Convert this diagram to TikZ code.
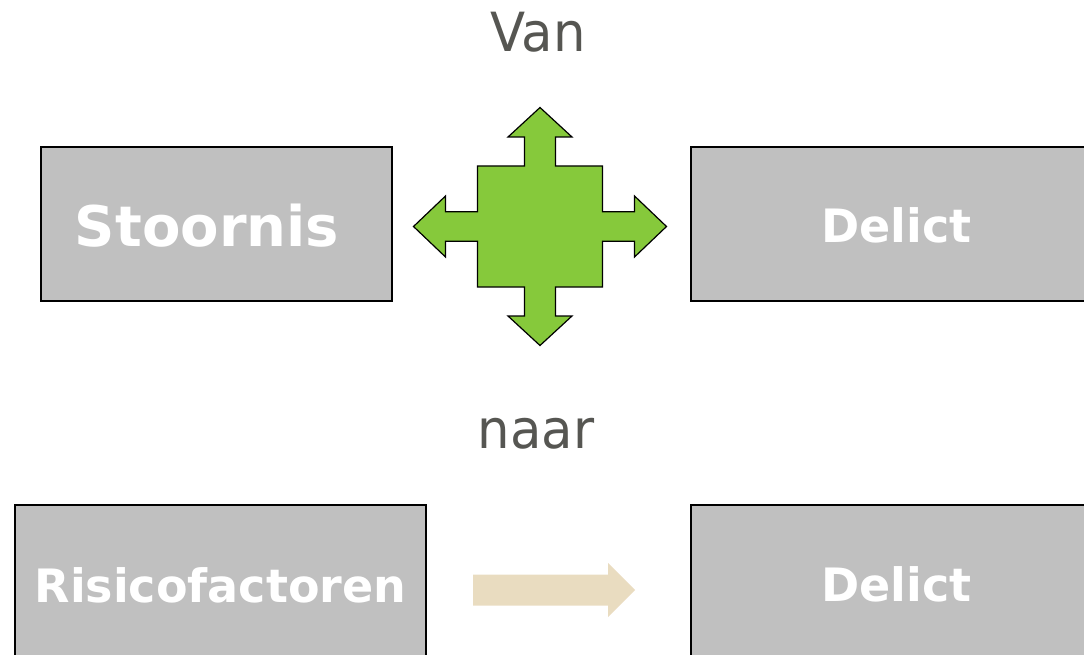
\documentclass[tikz,border=0pt]{standalone}
\usepackage{fontspec}
\setmainfont{DejaVu Sans}
\newfontfamily\narrowfont[FakeStretch=0.95]{DejaVu Sans}
\definecolor{boxgray}{RGB}{192,192,192}
\definecolor{crossgreen}{RGB}{134,201,59}
\definecolor{beige}{RGB}{233,220,192}
\definecolor{headgray}{RGB}{86,86,82}
\tikzset{
  box/.style={draw=black, line width=1.2pt, fill=boxgray, inner sep=0pt},
  boxtext/.style={text=white, anchor=base, inner sep=0pt},
  heading/.style={text=headgray, anchor=base, inner sep=0pt,
    font=\narrowfont\fontsize{54}{58}\selectfont},
}
\begin{document}
\begin{tikzpicture}[x=1pt, y=-1pt]
  \useasboundingbox (0,0) rectangle (1084,655);
  \clip (0,0) rectangle (1084,655);

  % headings
  \node[heading] (van) at (538,52) {Van};
  \node[heading] (naar) at (536,448) {naar};

  % top row
  \node[box, minimum width=351pt, minimum height=154pt] (stoornis) at (216.5,224) {};
  \node[boxtext, font=\bfseries\fontsize{56}{60}\selectfont] (stoornisText) at (207,247) {Stoornis};
  \node[box, minimum width=411pt, minimum height=154pt] (delictA) at (896.5,224) {};
  \node[boxtext, font=\bfseries\fontsize{46}{50}\selectfont] (delictAText) at (896.5,243) {Delict};

  % four-way arrow between the top boxes
  \coordinate (hub) at (540,226.5);
  \begin{scope}[shift={(hub)}]
    \draw[fill=crossgreen, draw=black, line width=1.2pt, line join=miter]
      (0,-119) -- (32,-89.5) -- (15.5,-89.5) -- (15.5,-60.5) -- (62.5,-60.5)
      -- (62.5,-14.7) -- (94.5,-14.7) -- (94.5,-30.5) -- (126.5,0)
      -- (94.5,30.5) -- (94.5,14.7) -- (62.5,14.7) -- (62.5,60.5)
      -- (15.5,60.5) -- (15.5,89.5) -- (32,89.5) -- (0,119)
      -- (-32,89.5) -- (-15.5,89.5) -- (-15.5,60.5) -- (-62.5,60.5)
      -- (-62.5,14.7) -- (-94.5,14.7) -- (-94.5,30.5) -- (-126.5,0)
      -- (-94.5,-30.5) -- (-94.5,-14.7) -- (-62.5,-14.7) -- (-62.5,-60.5)
      -- (-15.5,-60.5) -- (-15.5,-89.5) -- (-32,-89.5) -- cycle;
  \end{scope}

  % bottom row
  \node[box, minimum width=411pt, minimum height=160pt] (risico) at (220.5,585) {};
  \node[boxtext, font=\bfseries\fontsize{46}{50}\selectfont] (risicoText) at (220.5,602) {Risicofactoren};
  \node[box, minimum width=411pt, minimum height=160pt] (delictB) at (896.5,585) {};
  \node[boxtext, font=\bfseries\fontsize{46}{50}\selectfont] (delictBText) at (896.5,601) {Delict};

  % plain arrow between the bottom boxes
  \coordinate (flow) at (473,590);
  \begin{scope}[shift={(flow)}]
    \fill[beige] (0,-15.5) -- (135,-15.5) -- (135,-27) -- (162,0)
      -- (135,27) -- (135,15.5) -- (0,15.5) -- cycle;
  \end{scope}
\end{tikzpicture}
\end{document}
